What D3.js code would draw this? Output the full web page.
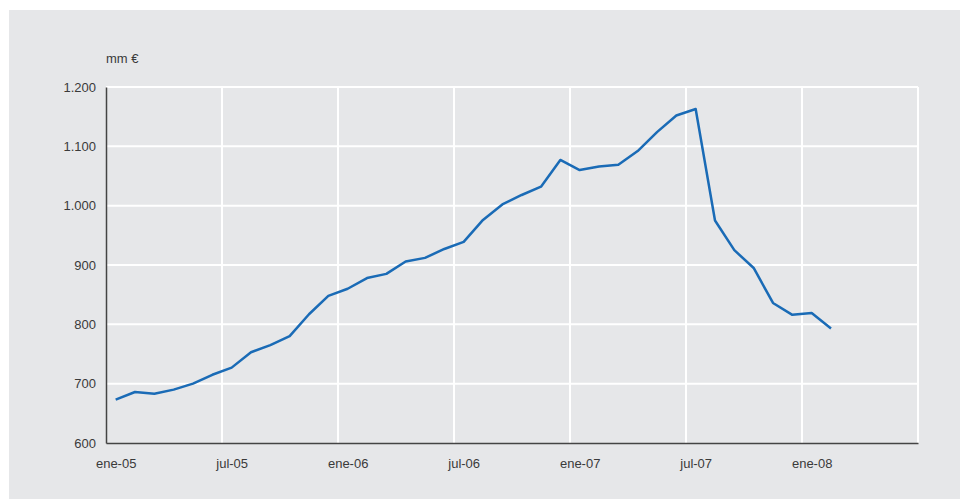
<!DOCTYPE html>
<html>
<head>
<meta charset="utf-8">
<script src="https://cdn.jsdelivr.net/npm/d3@7"></script>
<style>
  body { margin: 0; background: #fff; }
  svg text { font-family: "Liberation Sans", Arial, sans-serif; fill: #3a3a3a; }
</style>
</head>
<body>
<svg id="chart" width="960" height="499"></svg>
<script>
// monthly values, ene-05 .. feb-08 (mm €)
var values = [673, 686, 683, 690, 700, 715, 727, 753, 765, 780,
              817, 848, 860, 878, 885, 906, 912, 927, 939, 976,
              1002, 1018, 1032, 1077, 1060, 1066, 1069, 1092, 1124, 1152,
              1163, 975, 925, 895, 836, 816, 819, 793];
var tickMonths = [0, 6, 12, 18, 24, 30, 36];
var tickLabels = ["ene-05", "jul-05", "ene-06", "jul-06", "ene-07", "jul-07", "ene-08"];
var yTicks = [600, 700, 800, 900, 1000, 1100, 1200];
var unitLabel = "mm €";

var margin = {left: 106, right: 42, top: 87, bottom: 56},
    width = 960 - margin.left - margin.right,
    height = 499 - margin.top - margin.bottom;

var svg = d3.select("#chart");

svg.append("rect")
  .attr("x", 9).attr("y", 10)
  .attr("width", 951).attr("height", 489)
  .attr("fill", "#e6e7e9");

var x = d3.scaleLinear().domain([0, 42]).range([0, width]);
var y = d3.scaleLinear().domain([600, 1200]).range([height, 0]);

var g = svg.append("g")
  .attr("transform", "translate(" + margin.left + "," + margin.top + ")");

// gridlines
g.append("g").selectAll("line")
  .data(yTicks.slice(1))
  .enter().append("line")
    .attr("x1", 0).attr("x2", width)
    .attr("y1", d => y(d)).attr("y2", d => y(d))
    .attr("stroke", "#fff").attr("stroke-width", 2);

g.append("g").selectAll("line")
  .data(tickMonths.slice(1).concat([42]))
  .enter().append("line")
    .attr("x1", d => x(d)).attr("x2", d => x(d))
    .attr("y1", 0).attr("y2", height)
    .attr("stroke", "#fff").attr("stroke-width", 2);

// axes (month labels sit in the middle of their month)
var xAxis = d3.axisBottom(x)
  .tickValues(tickMonths.map(m => m + 0.5))
  .tickSize(0)
  .tickPadding(16)
  .tickFormat((d, i) => tickLabels[i]);

var yAxis = d3.axisLeft(y)
  .tickValues(yTicks)
  .tickSize(0)
  .tickPadding(10)
  .tickFormat(d => d3.format(",")(d).replace(",", "."));

g.append("g")
  .attr("transform", "translate(0," + height + ")")
  .call(xAxis)
  .call(a => a.select(".domain").attr("stroke", "#444").attr("stroke-width", 1.5))
  .selectAll("text").attr("font-size", 13);

g.append("g")
  .call(yAxis)
  .call(a => a.select(".domain").attr("stroke", "#444").attr("stroke-width", 1.5))
  .selectAll("text").attr("font-size", 13);

g.selectAll(".tick text").attr("fill", "#3a3a3a").style("font-family", "'Liberation Sans', Arial, sans-serif");

// unit label
g.append("text")
  .attr("x", 0).attr("y", -24)
  .attr("font-size", 13)
  .text(unitLabel);

// line
var line = d3.line()
  .x((d, i) => x(i + 0.5))
  .y(d => y(d));

g.append("path")
  .datum(values)
  .attr("fill", "none")
  .attr("stroke", "#1a6bb6")
  .attr("stroke-width", 2.5)
  .attr("stroke-linejoin", "round")
  .attr("d", line);
</script>
</body>
</html>
